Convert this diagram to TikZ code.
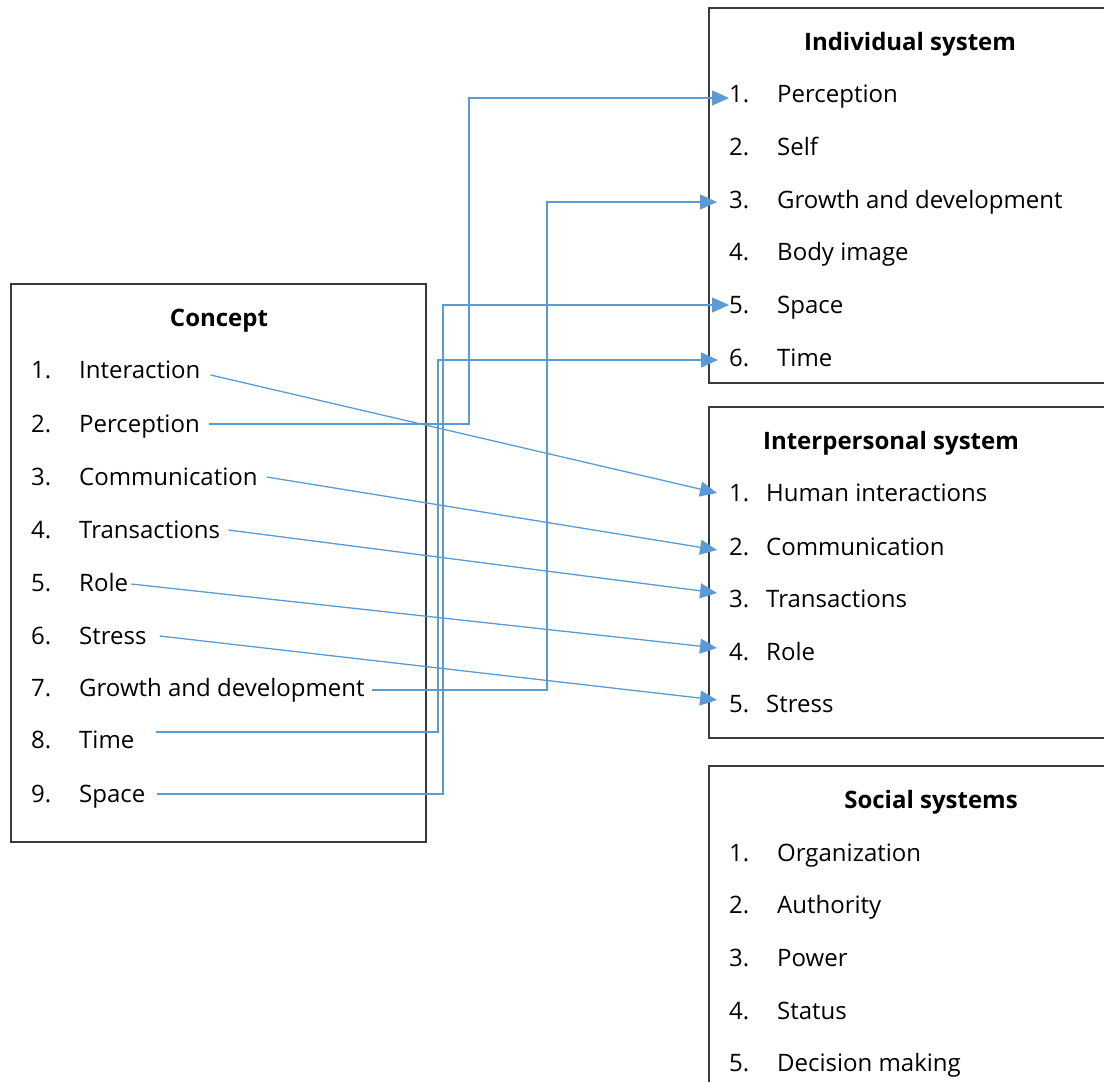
\documentclass[tikz,border=0pt]{standalone}
\usepackage{fontspec}
\setmainfont{Open Sans}
\usetikzlibrary{arrows.meta}
\definecolor{linkc}{HTML}{5B9BD5}
\definecolor{boxc}{HTML}{3A3A3A}
\begin{document}
\begin{tikzpicture}[x=1pt,y=-1pt,
  txt/.style={inner sep=0pt, anchor=west, text height=17pt, text depth=0pt, font=\fontsize{24}{28}\selectfont},
  ttl/.style={inner sep=0pt, text height=17pt, text depth=0pt, font=\fontsize{24}{28}\selectfont\bfseries},
  frame/.style={draw=boxc, line width=1.4pt},
  link/.style={draw=linkc, line width=1.3pt, -{Triangle[length=17pt,width=15pt]}}]
\useasboundingbox (0,0) rectangle (1104,1082);
\clip (0,0) rectangle (1104,1082);
% frames
\draw[frame] (11,284) rectangle (426,842);
\draw[frame] (709,8) rectangle (1130,383);
\draw[frame] (709,407) rectangle (1130,738);
\draw[frame] (709,766) rectangle (1130,1110);
% Concept
\node[ttl] (ct) at (219,318) {Concept};
\foreach \n/\t/\y in {1/Interaction/370,2/Perception/424,3/Communication/477,4/Transactions/530,5/Role/583,6/Stress/636,7/Growth and development/688,8/Time/740,9/Space/794}{
  \node[txt] (cn\n) at (31,\y) {\n.};
  \node[txt] (c\n) at (79,\y) {\t};
}
% Individual
\node[ttl] (it) at (910,42) {Individual system};
\foreach \n/\t/\y in {1/Perception/94,2/Self/147,3/Growth and development/200,4/Body image/252,5/Space/305,6/Time/358}{
  \node[txt] (i\n) at (729,\y) {\n.};
  \node[txt] (il\n) at (777,\y) {\t};
}
% Interpersonal
\node[ttl] (pt) at (891,441) {Interpersonal system};
\foreach \n/\t/\y in {1/Human interactions/493,2/Communication/547,3/Transactions/599,4/Role/652,5/Stress/704}{
  \node[txt] (p\n) at (729,\y) {\n.};
  \node[txt] (pl\n) at (766,\y) {\t};
}
% Social
\node[ttl] (st) at (931,800) {Social systems};
\foreach \n/\t/\y in {1/Organization/853,2/Authority/905,3/Power/958,4/Status/1011,5/Decision making/1063}{
  \node[txt] (s\n) at (729,\y) {\n.};
  \node[txt] (sl\n) at (777,\y) {\t};
}
% straight connectors
\draw[link] ([xshift=10pt,yshift=-5pt]c1.east) -- ([xshift=-12pt]p1.west);
\draw[link] ([xshift=9pt]c3.east) -- ([xshift=-12pt,yshift=-3pt]p2.west);
\draw[link] ([xshift=8pt]c4.east) -- ([xshift=-12pt,yshift=6pt]p3.west);
\draw[link] ([xshift=3pt,yshift=-1pt]c5.east) -- ([xshift=-12pt,yshift=4pt]p4.west);
\draw[link] ([xshift=13pt]c6.east) -- ([xshift=-12pt,yshift=4pt]p5.west);
% elbow connectors
\draw[link] ([xshift=9pt]c2.east) -| ([xshift=-260pt,yshift=-4pt]i1.west) -- ([yshift=-4pt]i1.west);
\draw[link] ([xshift=7pt,yshift=-2pt]c7.east) -| ([xshift=-182pt,yshift=-2pt]i3.west) -- ([xshift=-12pt,yshift=-2pt]i3.west);
\draw[link] ([xshift=21pt,yshift=8pt]c8.east) -| ([xshift=-291pt,yshift=-2pt]i6.west) -- ([xshift=-11pt,yshift=-2pt]i6.west);
\draw[link] ([xshift=11pt]c9.east) -| ([xshift=-286pt]i5.west) -- (i5.west);
\end{tikzpicture}
\end{document}
